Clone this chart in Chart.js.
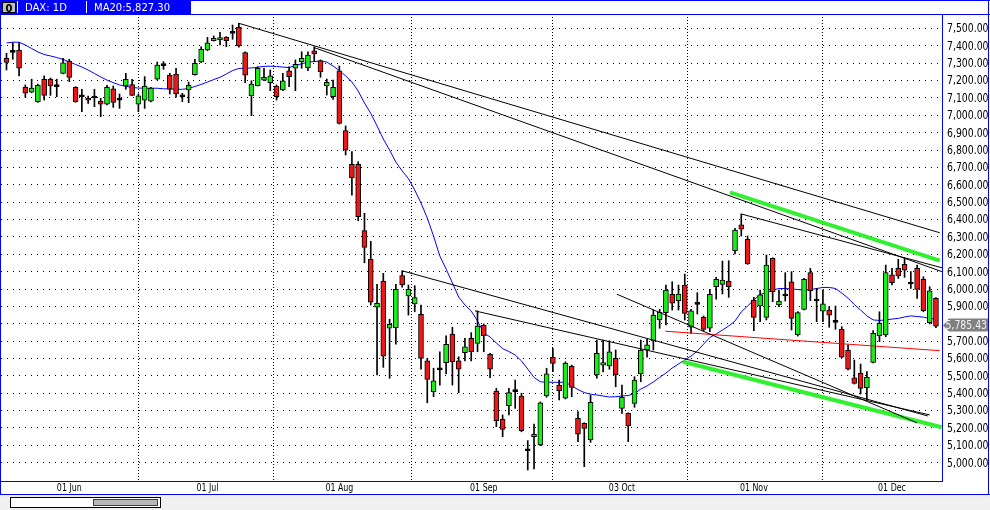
<!DOCTYPE html>
<html>
<head>
<meta charset="utf-8">
<script src="https://cdn.jsdelivr.net/npm/chart.js@4.4.1/dist/chart.umd.min.js"></script>
<style>
  html, body { margin: 0; padding: 0; background: #fff; overflow: hidden; }
  canvas { display: block; }
</style>
</head>
<body>
<canvas id="chart" width="990" height="510"></canvas>
<script>
// DAX daily candles, 18 May – 12 Dec 2011 (one entry per trading day)
const open = [
  7328,7363,7376,7161,7133,7079,7208,7208,7165,7242,
  7313,7161,7107,7100,7100,7081,7064,7153,7088,7169,
  7177,7064,7088,7081,7208,7286,7231,7238,7107,7146,
  7234,7307,7376,7430,7436,7449,7472,7507,7361,7113,
  7171,7203,7188,7169,7146,7257,7271,7309,7274,7372,
  7315,7169,7107,7257,6912,6718,6718,6336,6171,5895,
  6046,5774,5777,6077,5960,5914,5854,5586,5409,5534,
  5576,5740,5586,5633,5716,5687,5793,5624,5413,5250,
  5328,5409,5384,5069,5150,5102,5384,5607,5447,5372,
  5557,5256,5227,5131,5505,5562,5557,5601,5313,5284,
  5342,5511,5649,5701,5823,5864,5970,5933,6023,5780,
  5912,5837,5774,6013,6027,6046,6221,6369,6286,5937,
  5902,5837,6177,5908,5960,6042,5735,5883,6094,5931,
  5873,5879,5808,5768,5649,5489,5515,5432,5578,5731,
  5735,6081,6119,6142,6029,6119,6056,5806,5947
];
const high = [
  7357,7418,7418,7175,7208,7180,7227,7215,7208,7328,
  7323,7165,7150,7111,7150,7098,7173,7169,7123,7242,
  7208,7123,7223,7161,7307,7309,7242,7271,7127,7192,
  7323,7395,7449,7457,7478,7453,7520,7530,7366,7199,
  7280,7271,7261,7175,7242,7280,7319,7366,7366,7395,
  7319,7209,7203,7284,6939,6791,6733,6436,6275,6027,
  6090,5826,6027,6105,6023,6019,5908,5601,5544,5639,
  5730,5780,5610,5716,5749,5874,5799,5630,5428,5275,
  5428,5476,5400,5127,5223,5350,5543,5659,5476,5581,
  5562,5294,5230,5388,5706,5706,5702,5649,5447,5287,
  5495,5706,5710,5879,5883,6023,6042,6023,6086,5883,
  5979,5845,5998,6067,6161,6163,6350,6432,6305,5952,
  5994,6196,6180,5994,6094,6100,5870,6061,6119,6004,
  5994,5898,5902,5783,5678,5591,5568,5524,5760,5869,
  6138,6119,6171,6177,6100,6138,6071,6013,5950
];
const low = [
  7261,7323,7227,7104,7130,7075,7088,7115,7107,7238,
  7194,7075,7021,7069,7050,6992,7060,7046,7040,7150,
  7113,7021,7040,7077,7203,7265,7123,7104,7079,7073,
  7232,7303,7372,7428,7405,7395,7438,7392,7188,6998,
  7169,7200,7142,7088,7142,7165,7142,7271,7257,7309,
  7219,7117,7092,6950,6772,6541,6393,6151,5908,5505,
  5549,5486,5682,6010,5850,5869,5538,5345,5380,5447,
  5511,5447,5403,5586,5586,5639,5639,5489,5207,5150,
  5275,5313,5178,4958,4964,5098,5377,5524,5361,5367,
  5380,5121,4977,5117,5486,5522,5538,5437,5284,5121,
  5319,5466,5607,5649,5774,5793,5879,5879,5822,5745,
  5856,5757,5754,5941,5971,5952,6202,6305,6142,5760,
  5812,5822,5927,5898,5931,5764,5729,5879,5933,5812,
  5812,5780,5768,5605,5534,5453,5395,5361,5574,5697,
  5725,6023,6061,6067,6004,5946,5869,5799,5777
];
const close = [
  7305,7363,7271,7127,7157,7173,7115,7169,7165,7303,
  7219,7079,7107,7087,7100,7064,7161,7075,7088,7208,
  7115,7113,7169,7157,7290,7286,7150,7123,7107,7173,
  7300,7380,7418,7444,7444,7430,7472,7399,7232,7180,
  7271,7219,7227,7107,7198,7222,7294,7328,7347,7353,
  7251,7190,7161,6954,6800,6641,6416,6240,5924,5918,
  5614,5797,5998,6023,5998,5950,5601,5480,5472,5534,
  5682,5581,5538,5667,5639,5787,5731,5538,5242,5192,
  5403,5409,5184,5069,5164,5345,5511,5572,5414,5572,
  5434,5164,5198,5347,5630,5577,5639,5505,5376,5213,
  5476,5649,5678,5850,5866,5994,5918,5971,5860,5875,
  5912,5768,5970,6056,6052,6013,6340,6344,6144,5837,
  5966,6138,5985,5931,5960,5831,5864,6056,5990,5931,
  5914,5850,5808,5607,5538,5457,5428,5491,5745,5803,
  6094,6036,6075,6109,6029,5998,5875,5990,5785.43
];
// 20-day moving average of the close
const ma20 = [
  7417,7421,7421,7405,7385,7365,7350,7342,7333,7322,
  7307,7293,7278,7261,7241,7221,7203,7188,7175,7167,
  7161,7157,7156,7156,7156,7153,7152,7150,7150,7155,
  7166,7178,7192,7206,7219,7238,7258,7270,7271,7273,
  7277,7282,7283,7281,7278,7275,7287,7297,7306,7310,
  7312,7307,7284,7258,7227,7192,7140,7071,7011,6939,
  6864,6800,6731,6680,6636,6570,6495,6409,6305,6190,
  6115,6035,5954,5908,5873,5816,5747,5724,5689,5657,
  5640,5620,5586,5539,5491,5466,5463,5463,5463,5463,
  5442,5421,5404,5394,5390,5384,5378,5380,5384,5387,
  5398,5424,5442,5465,5491,5516,5545,5568,5591,5614,
  5643,5683,5721,5741,5764,5787,5816,5868,5902,5937,
  5968,5980,5994,6003,6003,6000,5997,5994,5997,6003,
  6009,6009,6003,5977,5947,5911,5879,5845,5822,5819,
  5822,5827,5831,5839,5845,5842,5838,5830,5827.30
];

// month-start bars and their axis labels
const monthTickIndex  = [10, 32, 53, 76, 98, 119, 141];
const monthTickLabels = ['01 Jun', '01 Jul', '01 Aug', '01 Sep', '03 Oct', '01 Nov', '01 Dec'];
const priceTicks = [5000,5100,5200,5300,5400,5500,5600,5700,5800,5900,6000,6100,6200,
                    6300,6400,6500,6600,6700,6800,6900,7000,7100,7200,7300,7400,7500];

// drawn trend lines: [fromBar, fromPrice, toBar, toPrice]
const resistanceLines = [
  [37, 7530, 148.6, 6324],
  [49, 7390, 149.5, 6093],
  [117, 6432, 149.5, 6117]
];
const supportLines = [
  [63, 6105, 146.7, 5269],
  [74.6, 5874, 147.0, 5275],
  [97.2, 5970, 145.0, 5229]
];
const channelLines = [
  [115.2, 6556, 148.6, 6163],
  [107.7, 5581, 148.9, 5204]
];
const pivotLine = [104.9, 5757, 148.6, 5645];

const symbolTitle = 'DAX: 1D';
const maTitle = 'MA20:5,827.30';

const NARROW = '"Liberation Sans Narrow", "Arial Narrow", "DejaVu Sans Condensed", sans-serif';
const BLUE = '#0000ff';
const UP = '#16ee16';
const DOWN = '#ee1616';

const fmt = v => v.toLocaleString('en-US', { minimumFractionDigits: 2, maximumFractionDigits: 2 });
const bars = open.map((_, i) => i);

const segment = (l, color, width, order) => ({
  type: 'line',
  data: [{ x: l[0], y: l[1] }, { x: l[2], y: l[3] }],
  borderColor: color,
  borderWidth: width,
  pointRadius: 0,
  order: order
});

// narrow axis text: squeeze horizontally if the narrow face is wider than expected
function narrowText(ctx, text, x, y, size, align) {
  ctx.font = size + 'px ' + NARROW;
  const digits = ctx.measureText('0123456789').width;
  const s = Math.min(1, (size * 4.56) / digits);
  ctx.save();
  ctx.translate(x, y);
  ctx.scale(s, 1);
  ctx.textAlign = align;
  ctx.fillText(text, 0, 0);
  ctx.restore();
}

// frame, header strip, axis texts, scroll bar and last-price tag
const framePlugin = {
  id: 'frame',
  afterDraw(chart) {
    const { ctx, chartArea: a, scales } = chart;
    const W = chart.width;
    ctx.save();

    // axis texts
    ctx.fillStyle = '#000';
    ctx.textBaseline = 'middle';
    priceTicks.forEach(v => {
      narrowText(ctx, fmt(v), a.right + 4, scales.y.getPixelForValue(v) + 0.5, 13, 'left');
    });
    monthTickIndex.forEach((v, i) => {
      narrowText(ctx, monthTickLabels[i], scales.x.getPixelForValue(v), 488.5, 11, 'center');
    });

    // bottom scroll strip
    ctx.fillStyle = '#f0f0f0';
    ctx.fillRect(0, 495, W, 15);
    ctx.fillStyle = '#fff';
    ctx.fillRect(10, 497, 150, 11);
    ctx.strokeStyle = '#000';
    ctx.lineWidth = 1;
    ctx.strokeRect(10.5, 497.5, 150, 10);
    ctx.fillStyle = '#b8b8b8';
    ctx.fillRect(93, 499, 65, 7);
    ctx.strokeStyle = '#404040';
    ctx.strokeRect(93.5, 499.5, 64, 6);

    // header strip
    ctx.fillStyle = '#fff';
    ctx.fillRect(0, 0, W, 14);
    ctx.fillStyle = BLUE;
    ctx.fillRect(0, 0, 191, 14);
    ctx.fillStyle = '#c0c0c0';
    ctx.fillRect(2, 2, 14, 11);
    ctx.strokeStyle = '#000';
    ctx.strokeRect(2.5, 2.5, 13, 10);
    ctx.fillStyle = '#000';
    ctx.font = 'bold 10px "DejaVu Sans", sans-serif';
    ctx.textAlign = 'center';
    ctx.textBaseline = 'alphabetic';
    ctx.fillText('0', 9, 11.5);
    ctx.strokeStyle = '#fff';
    ctx.beginPath();
    ctx.moveTo(17.5, 1); ctx.lineTo(17.5, 13);
    ctx.moveTo(86.5, 1); ctx.lineTo(86.5, 13);
    ctx.stroke();
    ctx.fillStyle = '#fff';
    ctx.textAlign = 'left';
    ctx.font = '10px "DejaVu Sans", sans-serif';
    ctx.fillText(symbolTitle, 25, 11);
    ctx.fillText(maTitle, 94, 11);

    // blue borders
    ctx.strokeStyle = BLUE;
    ctx.lineWidth = 1;
    ctx.beginPath();
    ctx.moveTo(0, 0.5); ctx.lineTo(W, 0.5);
    ctx.moveTo(0, 14.5); ctx.lineTo(W, 14.5);
    ctx.moveTo(0.5, 0); ctx.lineTo(0.5, 495);
    ctx.moveTo(988.5, 0); ctx.lineTo(988.5, 495);
    ctx.moveTo(a.right - 0.5, 14); ctx.lineTo(a.right - 0.5, a.bottom + 1);
    ctx.moveTo(0, a.bottom + 0.5); ctx.lineTo(a.right, a.bottom + 0.5);
    ctx.moveTo(0, 494.5); ctx.lineTo(W, 494.5);
    ctx.stroke();

    // last-price tag on the price axis
    const last = close[close.length - 1];
    const py = Math.round(scales.y.getPixelForValue(last)) - 0.5;
    ctx.fillStyle = '#808080';
    ctx.beginPath();
    ctx.moveTo(a.right, py);
    ctx.lineTo(a.right + 6, py - 7);
    ctx.lineTo(988, py - 7);
    ctx.lineTo(988, py + 6);
    ctx.lineTo(a.right + 6, py + 6);
    ctx.closePath();
    ctx.fill();
    ctx.fillStyle = '#f4f4f4';
    ctx.textBaseline = 'middle';
    narrowText(ctx, fmt(last), 987, py + 0.5, 13, 'right');

    ctx.restore();
  }
};

new Chart(document.getElementById('chart'), {
  type: 'bar',
  data: {
    datasets: [
      ...resistanceLines.map(l => segment(l, '#000', 1, 0)),
      ...supportLines.map(l => segment(l, '#000', 1, 0)),
      ...channelLines.map(l => segment(l, '#30f030', 4, 0)),
      segment(pivotLine, '#ff0000', 1, 0),
      {
        type: 'bar',
        data: bars.map(i => ({ x: i, y: [open[i], close[i]] })),
        backgroundColor: bars.map(i => close[i] > open[i] ? UP : (close[i] < open[i] ? DOWN : '#000')),
        borderColor: '#000',
        borderWidth: 1,
        borderSkipped: false,
        barThickness: 5,
        minBarLength: 2,
        grouped: false,
        order: 1
      },
      {
        type: 'bar',
        data: bars.map(i => ({ x: i, y: [low[i], high[i]] })),
        backgroundColor: '#000',
        borderWidth: 0,
        barThickness: 1,
        grouped: false,
        order: 2
      },
      {
        type: 'line',
        data: bars.map(i => ({ x: i, y: ma20[i] })),
        borderColor: BLUE,
        borderWidth: 1,
        pointRadius: 0,
        order: 3
      }
    ]
  },
  options: {
    responsive: false,
    animation: false,
    devicePixelRatio: 1,
    events: [],
    layout: { padding: { left: 1, top: 14, right: 0, bottom: 15 } },
    plugins: { legend: { display: false }, tooltip: { enabled: false } },
    scales: {
      x: {
        type: 'linear',
        bounds: 'data',
        min: -0.876,
        max: 149.12,
        offset: false,
        afterBuildTicks: s => { s.ticks = monthTickIndex.map(v => ({ value: v })); },
        afterFit: s => { s.height = 14; },
        ticks: { display: false },
        grid: { color: '#000', lineWidth: 1, drawTicks: false },
        border: { display: false, dash: [1, 2] }
      },
      y: {
        type: 'linear',
        position: 'right',
        bounds: 'data',
        min: 4894.6,
        max: 7583.5,
        afterBuildTicks: s => { s.ticks = priceTicks.map(v => ({ value: v })); },
        afterFit: s => { s.width = 47; },
        ticks: { display: false },
        grid: { color: '#000', lineWidth: 1, drawTicks: false },
        border: { display: false, dash: [1, 5] }
      }
    }
  },
  plugins: [framePlugin]
});
</script>
</body>
</html>
